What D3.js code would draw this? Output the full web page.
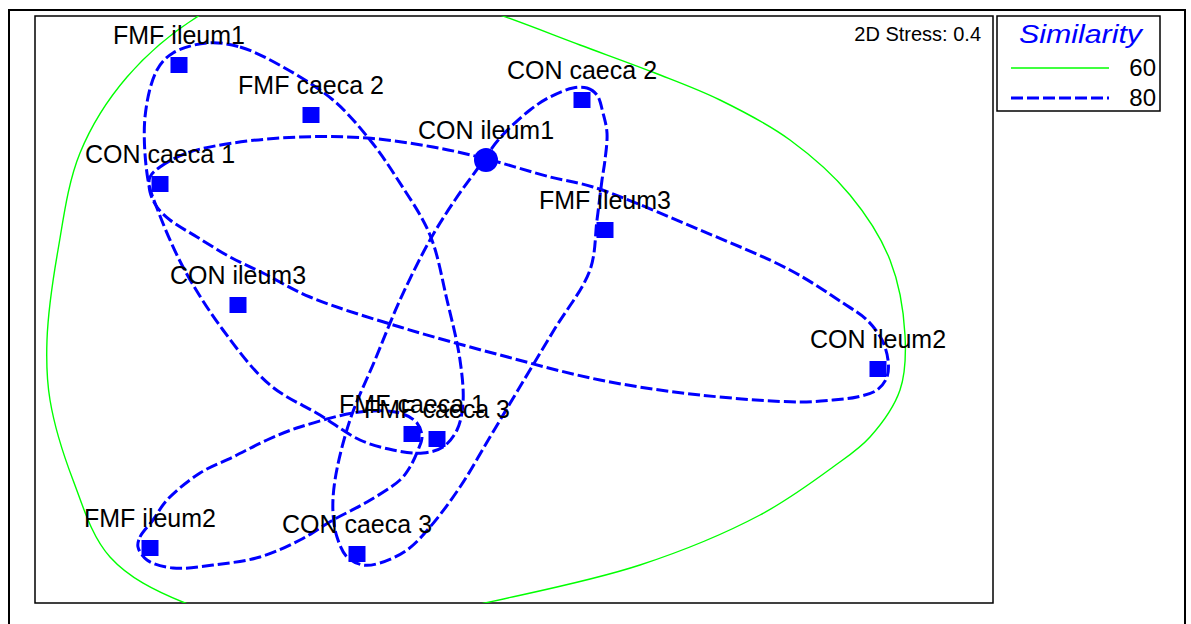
<!DOCTYPE html>
<html><head><meta charset="utf-8">
<script src="https://cdn.jsdelivr.net/npm/d3@7"></script>
<style>html,body{margin:0;padding:0;background:#fff;overflow:hidden;}</style>
</head><body>
<svg id="chart" width="1191" height="624"></svg>
<script>
// ---- data (NMDS ordination coordinates) ----
const sampleNames = ["FMF ileum1","FMF caeca 2","CON caeca 2","CON ileum1","CON caeca 1","FMF ileum3",
                     "CON ileum3","CON ileum2","FMF caeca 1","FMF caeca 3","FMF ileum2","CON caeca 3"];
const mdsX = [-3.35,-2.03, 0.68,-0.28,-3.54, 0.91,-2.76, 3.64,-1.02,-0.77,-3.64,-1.57];
const mdsY = [ 2.45, 1.95, 2.10, 1.50, 1.26, 0.80, 0.05,-0.59,-1.24,-1.29,-2.38,-2.44];
const markerShape = ["square","square","square","circle","square","square",
                     "square","square","square","square","square","square"];
const stressLabel = "2D Stress: 0.4";
const legendTitle = "Similarity";
const similarityLevels = [60, 80];

// similarity contours (closed curves, ordination units)
const contour60 = [[-1.34,3.35],[-0.14,2.95],[0.66,2.65],[1.41,2.37],[2.06,2.10],[2.76,1.70],[3.36,1.15],[3.76,0.50],
  [3.91,-0.25],[3.86,-0.80],[3.56,-1.27],[3.19,-1.57],[2.46,-2.05],[1.26,-2.55],[-0.29,-2.93],[-1.84,-3.25],
  [-3.29,-2.93],[-4.04,-2.47],[-4.41,-1.70],[-4.64,-0.90],[-4.67,-0.30],[-4.56,0.60],[-4.34,1.57],
  [-3.87,2.33],[-3.14,2.95],[-2.34,3.30]];
const contour80a = [[-3.07,2.67],[-2.74,2.63],[-2.31,2.43],[-1.81,2.10],[-1.44,1.70],[-1.16,1.30],[-0.84,0.75],
  [-0.67,0.10],[-0.54,-0.50],[-0.51,-0.93],[-0.57,-1.20],[-0.71,-1.37],[-0.91,-1.43],[-1.21,-1.40],
  [-1.54,-1.30],[-1.94,-1.05],[-2.44,-0.75],[-2.91,-0.20],[-3.31,0.43],[-3.59,1.07],[-3.66,1.30],
  [-3.69,1.93],[-3.57,2.40],[-3.41,2.57]];
const contour80b = [[-3.64,1.33],[-3.54,1.43],[-3.27,1.57],[-2.81,1.67],[-2.14,1.73],[-1.47,1.72],[-0.81,1.63],
  [-0.31,1.52],[0.36,1.33],[0.79,1.23],[1.86,0.80],[2.76,0.40],[3.29,0.07],[3.53,-0.10],[3.68,-0.30],
  [3.74,-0.50],[3.73,-0.67],[3.63,-0.80],[3.43,-0.87],[3.19,-0.90],[2.86,-0.92],[1.86,-0.85],[0.86,-0.70],
  [-0.14,-0.45],[-1.14,-0.17],[-2.04,0.13],[-2.51,0.37],[-2.84,0.53],[-3.17,0.73],[-3.44,0.90],
  [-3.57,1.03],[-3.64,1.18]];
const contour80c = [[0.59,2.22],[0.73,2.22],[0.83,2.15],[0.89,1.97],[0.93,1.77],[0.91,1.50],[0.88,1.30],
  [0.83,0.90],[0.76,0.40],[0.40,-0.20],[0.04,-0.80],[-0.24,-1.27],[-0.54,-1.77],
  [-0.84,-2.17],[-1.07,-2.40],[-1.34,-2.53],[-1.51,-2.55],[-1.67,-2.47],[-1.77,-2.27],[-1.81,-2.03],
  [-1.79,-1.70],[-1.64,-1.10],[-1.39,-0.50],[-1.14,0.10],[-0.84,0.70],[-0.59,1.10],[-0.36,1.42],
  [-0.14,1.72],[0.16,2.00],[0.36,2.13]];
const contour80d = [[-3.76,-2.37],[-3.74,-2.27],[-3.61,-2.10],[-3.47,-1.90],[-3.14,-1.63],[-2.81,-1.47],
  [-2.47,-1.30],[-2.14,-1.17],[-1.54,-1.02],[-1.14,-1.03],[-0.97,-1.13],[-0.92,-1.27],[-0.96,-1.40],
  [-1.04,-1.57],[-1.14,-1.70],[-1.47,-1.92],[-1.81,-2.10],[-2.14,-2.30],[-2.54,-2.47],[-3.01,-2.55],
  [-3.41,-2.58],[-3.67,-2.50]];
const contours80 = [contour80a, contour80b, contour80c, contour80d];

// ---- drawing ----
const svg = d3.select("#chart");
const plot = {left:35, top:16, right:993, bottom:603};
const x = d3.scaleLinear().domain([-4.79, 4.79]).range([plot.left, plot.right]);
const y = d3.scaleLinear().domain([-2.93, 2.94]).range([plot.bottom, plot.top]);
const blue = "#0000ff", green = "#00ff00";

svg.append("rect").attr("x",9).attr("y",10).attr("width",1176).attr("height",640)
  .attr("fill","none").attr("stroke","#000").attr("stroke-width",2);
svg.append("rect").attr("x",plot.left).attr("y",plot.top).attr("width",plot.right-plot.left)
  .attr("height",plot.bottom-plot.top).attr("fill","#fff").attr("stroke","#000").attr("stroke-width",1.5);

svg.append("clipPath").attr("id","pclip").append("rect")
  .attr("x",plot.left).attr("y",plot.top).attr("width",plot.right-plot.left).attr("height",plot.bottom-plot.top);

const line = d3.line().x(d=>x(d[0])).y(d=>y(d[1])).curve(d3.curveCatmullRomClosed.alpha(0.5));
const g = svg.append("g").attr("clip-path","url(#pclip)");
g.append("path").attr("d",line(contour60)).attr("fill","none").attr("stroke",green).attr("stroke-width",1.4);
g.selectAll("path.c80").data(contours80).join("path").attr("class","c80")
  .attr("d",d=>line(d)).attr("fill","none").attr("stroke",blue).attr("stroke-width",3)
  .attr("stroke-dasharray","12,4");

const pts = sampleNames.map((n,i)=>({name:n, x:mdsX[i], y:mdsY[i], shape:markerShape[i]}));
g.selectAll("rect.pt").data(pts.filter(p=>p.shape==="square")).join("rect").attr("class","pt")
  .attr("x",d=>x(d.x)-8.5).attr("y",d=>y(d.y)-8).attr("width",17).attr("height",16).attr("fill",blue);
g.selectAll("circle.pt").data(pts.filter(p=>p.shape==="circle")).join("circle").attr("class","pt")
  .attr("cx",d=>x(d.x)).attr("cy",d=>y(d.y)).attr("r",12).attr("fill",blue);

svg.selectAll("text.lbl").data(pts).join("text").attr("class","lbl")
  .attr("x",d=>x(d.x)).attr("y",d=>y(d.y)-21).attr("text-anchor","middle")
  .attr("font-family","Liberation Sans, Arial, sans-serif").attr("font-size",25).attr("fill","#000")
  .text(d=>d.name);

svg.append("text").attr("x",981).attr("y",41).attr("text-anchor","end")
  .attr("font-family","Liberation Sans, Arial, sans-serif").attr("font-size",20).text(stressLabel);

// legend
const lg = svg.append("g");
lg.append("rect").attr("x",997).attr("y",16).attr("width",163).attr("height",95)
  .attr("fill","#fff").attr("stroke","#000").attr("stroke-width",1.5);
lg.append("text").attr("x",1019).attr("y",43).attr("font-family","Liberation Sans, Arial, sans-serif")
  .attr("font-style","italic").attr("font-size",26).attr("fill",blue)
  .attr("textLength",123).attr("lengthAdjust","spacingAndGlyphs").text(legendTitle);
const legY = d3.scalePoint().domain(similarityLevels).range([68, 98]);
similarityLevels.forEach((lv,i)=>{
  lg.append("line").attr("x1",1011).attr("x2",1109).attr("y1",legY(lv)).attr("y2",legY(lv))
    .attr("stroke", i===0?green:blue).attr("stroke-width", i===0?1.4:3)
    .attr("stroke-dasharray", i===0?null:"12,4");
  lg.append("text").attr("x",1156).attr("y",legY(lv)+8).attr("text-anchor","end")
    .attr("font-family","Liberation Sans, Arial, sans-serif").attr("font-size",24).text(lv);
});
</script>
</body></html>
